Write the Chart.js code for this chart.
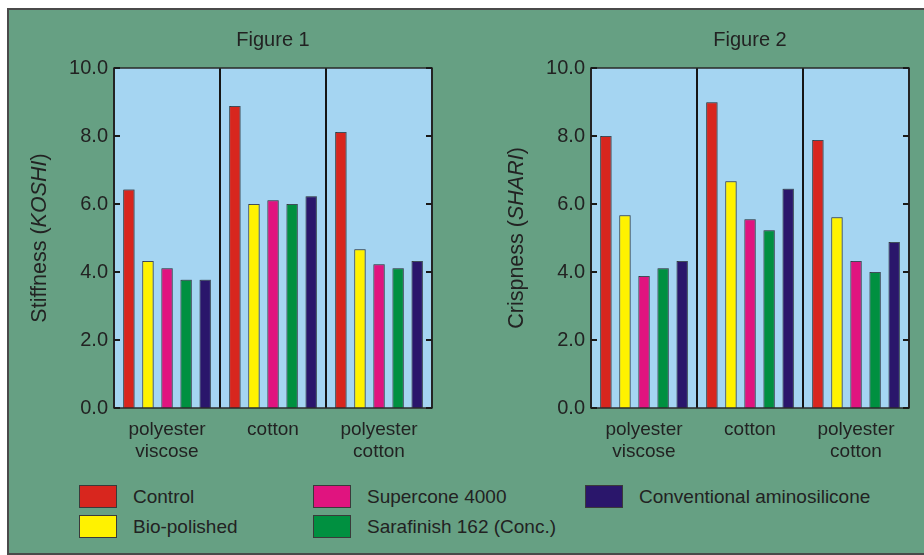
<!DOCTYPE html>
<html>
<head>
<meta charset="utf-8">
<script src="https://cdn.jsdelivr.net/npm/chart.js@4.4.1/dist/chart.umd.min.js"></script>
<style>
  html, body { margin: 0; padding: 0; background: #fff; overflow: hidden; }
  body { width: 924px; height: 555px; position: relative; font-family: "Liberation Sans", Arial, sans-serif; }
  .frame { position: absolute; left: 7px; top: 8px; width: 940px; height: 543px; background: #66a083; border: 2px solid #4a4a4a; }
  .chart { position: absolute; top: 0; width: 462px; height: 470px; }
  #c1 { left: 0; }
  #c2 { left: 462px; }
  .legend { position: absolute; left: 0; top: 0; }
  .item { position: absolute; height: 23px; display: flex; align-items: center; font-size: 19px; color: #222; white-space: nowrap; }
  .box { width: 36px; height: 21px; border: 1px solid #3a3a3a; margin-right: 16px; }
</style>
</head>
<body>
<div class="frame"></div>
<canvas id="c1" class="chart" width="462" height="470"></canvas>
<canvas id="c2" class="chart" width="462" height="470"></canvas>
<div class="legend" id="legend"></div>
<script>
const categories = [['polyester', 'viscose'], 'cotton', ['polyester', 'cotton']];
const seriesNames = ['Control', 'Bio-polished', 'Supercone 4000', 'Sarafinish 162 (Conc.)', 'Conventional aminosilicone'];
const seriesColors = ['#d8261e', '#fff200', '#e0147f', '#009040', '#2a166b'];
const yTicks = [0, 2, 4, 6, 8, 10];

// Figure 1 - stiffness (KOSHI)
const stiffControl = [6.43, 8.88, 8.12];
const stiffBio = [4.32, 6.0, 4.67];
const stiffSupercone = [4.11, 6.11, 4.23];
const stiffSarafinish = [3.77, 6.0, 4.11];
const stiffAmino = [3.77, 6.23, 4.32];

// Figure 2 - crispness (SHARI)
const crispControl = [8.0, 8.99, 7.88];
const crispBio = [5.67, 6.67, 5.61];
const crispSupercone = [3.88, 5.55, 4.32];
const crispSarafinish = [4.11, 5.23, 4.0];
const crispAmino = [4.32, 6.45, 4.88];

const FONT = '"Liberation Sans", Arial, sans-serif';
const TEXT = '#222';

const decor = {
    id: 'decor',
    beforeDraw(chart) {
        const a = chart.chartArea;
        const ctx = chart.ctx;
        ctx.save();
        ctx.fillStyle = '#a5d5f2';
        ctx.fillRect(a.left, a.top, a.right - a.left, a.bottom - a.top);
        ctx.restore();
    },
    // soft grey edge on the bars, like the print
    beforeDatasetsDraw(chart) {
        const ctx = chart.ctx;
        ctx.save();
        ctx.shadowColor = 'rgba(70,90,110,0.55)';
        ctx.shadowOffsetX = 1;
        ctx.shadowOffsetY = -1;
        ctx.shadowBlur = 0;
    },
    afterDatasetsDraw(chart) {
        chart.ctx.restore();
    },
    afterDraw(chart, args, opts) {
        const a = chart.chartArea;
        const ctx = chart.ctx;
        const y = chart.scales.y;
        ctx.save();
        ctx.strokeStyle = '#2a2a2a';
        ctx.lineWidth = 1.5;
        ctx.strokeRect(a.left, a.top, a.right - a.left, a.bottom - a.top);

        // tick marks pointing into the plot on both sides
        ctx.strokeStyle = '#1a1a1a';
        ctx.lineWidth = 2;
        yTicks.forEach(v => {
            const py = y.getPixelForValue(v);
            ctx.beginPath();
            ctx.moveTo(a.left, py); ctx.lineTo(a.left + 6, py);
            ctx.moveTo(a.right - 6, py); ctx.lineTo(a.right, py);
            ctx.stroke();
        });

        // figure title
        ctx.fillStyle = TEXT;
        ctx.font = '20px ' + FONT;
        ctx.textAlign = 'center';
        ctx.textBaseline = 'middle';
        ctx.fillText(opts.title, (a.left + a.right) / 2, 40);

        // y title with italic part
        const parts = [[opts.yLabel + ' (', false], [opts.yUnit, true], [')', false]];
        const fonts = parts.map(p => (p[1] ? 'italic ' : '') + '21.5px ' + FONT);
        let total = 0;
        const widths = parts.map((p, i) => { ctx.font = fonts[i]; const w = ctx.measureText(p[0]).width; total += w; return w; });
        ctx.translate(opts.yTitleX, (a.top + a.bottom) / 2);
        ctx.rotate(-Math.PI / 2);
        ctx.textAlign = 'left';
        let x = -total / 2;
        parts.forEach((p, i) => { ctx.font = fonts[i]; ctx.fillText(p[0], x, 0); x += widths[i]; });
        ctx.restore();
    }
};

function makeChart(id, values, opts) {
    return new Chart(document.getElementById(id), {
        type: 'bar',
        data: {
            labels: categories,
            datasets: values.map((vals, i) => ({
                label: seriesNames[i],
                data: vals,
                backgroundColor: seriesColors[i],
                borderColor: 'rgba(40,40,40,0.85)',
                borderWidth: 1,
                barPercentage: 0.6,
                categoryPercentage: 0.9
            }))
        },
        options: {
            responsive: false,
            animation: false,
            layout: { padding: { top: 68, left: 0, right: opts.rightPad, bottom: 0 } },
            plugins: {
                legend: { display: false },
                tooltip: { enabled: false },
                decor: opts
            },
            scales: {
                x: {
                    offset: true,
                    grid: { display: true, offset: true, color: '#151515', lineWidth: 2, drawTicks: false },
                    border: { display: false },
                    ticks: { color: TEXT, font: { family: FONT, size: 19, lineHeight: 1.2 }, padding: 10, maxRotation: 0 },
                    afterFit(scale) { scale.height = 62; }
                },
                y: {
                    min: 0,
                    max: 10,
                    afterBuildTicks(scale) { scale.ticks = yTicks.map(v => ({ value: v })); },
                    grid: { display: false, drawTicks: false },
                    border: { display: false },
                    ticks: { color: TEXT, font: { family: FONT, size: 20 }, padding: 6, callback: v => v.toFixed(1) },
                    afterFit(scale) { scale.width = opts.yWidth; }
                }
            }
        },
        plugins: [decor]
    });
}

makeChart('c1', [stiffControl, stiffBio, stiffSupercone, stiffSarafinish, stiffAmino],
    { title: 'Figure 1', yLabel: 'Stiffness', yUnit: 'KOSHI', yTitleX: 40, yWidth: 114, rightPad: 30 });
makeChart('c2', [crispControl, crispBio, crispSupercone, crispSarafinish, crispAmino],
    { title: 'Figure 2', yLabel: 'Crispness', yUnit: 'SHARI', yTitleX: 55, yWidth: 129, rightPad: 15 });

// legend in three columns, as in the figure
const legendPos = [[79, 485], [79, 515], [313, 485], [313, 515], [585, 485]];
const legend = document.getElementById('legend');
seriesNames.forEach((name, i) => {
    const item = document.createElement('div');
    item.className = 'item';
    item.style.left = legendPos[i][0] + 'px';
    item.style.top = legendPos[i][1] + 'px';
    const box = document.createElement('div');
    box.className = 'box';
    box.style.background = seriesColors[i];
    const label = document.createElement('span');
    label.textContent = name;
    item.appendChild(box);
    item.appendChild(label);
    legend.appendChild(item);
});
</script>
</body>
</html>
